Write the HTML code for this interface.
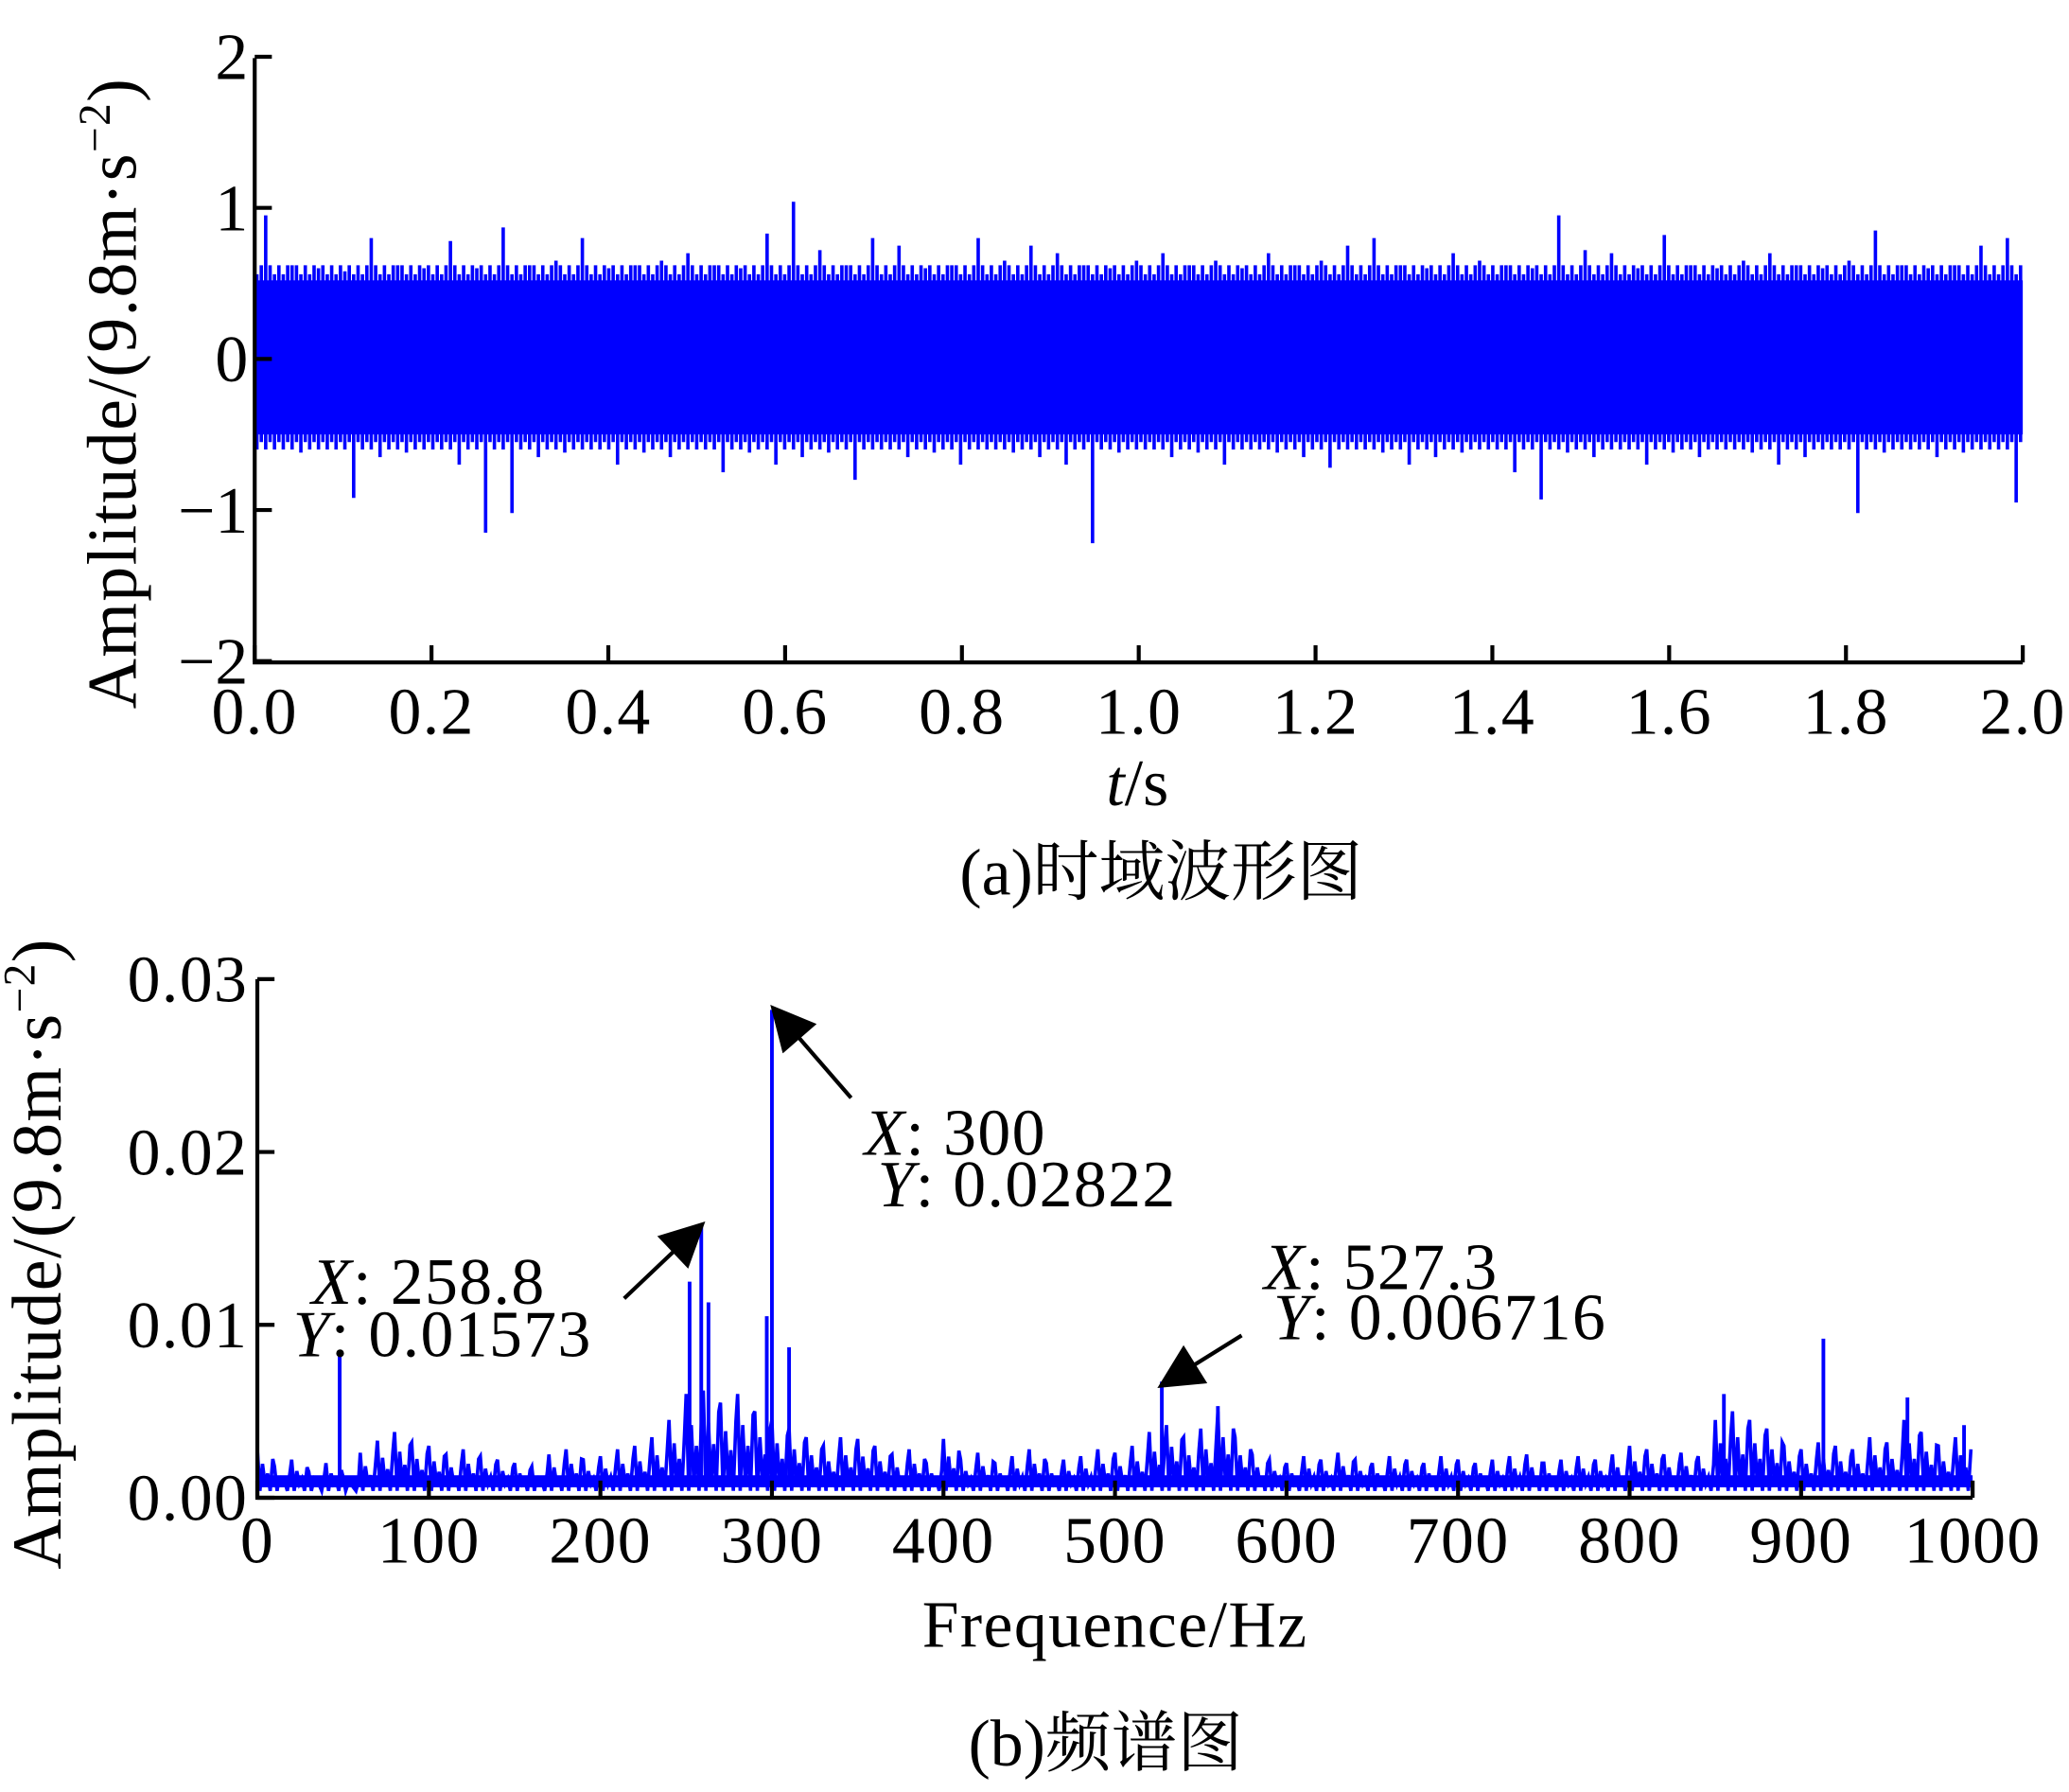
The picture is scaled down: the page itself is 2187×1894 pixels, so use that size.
<!DOCTYPE html>
<html><head><meta charset="utf-8"><style>
html,body{margin:0;padding:0;background:#fff;}
svg{display:block;font-family:"Liberation Serif","Noto Serif CJK SC",serif;}
</style></head><body>
<svg id="chart" width="2187" height="1894" viewBox="0 0 1568 1358" xmlns="http://www.w3.org/2000/svg">
<defs><marker id="ah" viewBox="0 0 10 10" refX="9" refY="5" markerWidth="8" markerHeight="7" markerUnits="userSpaceOnUse" orient="auto"><path d="M0,0 L10,5 L0,10 z" fill="#000"/></marker>
<marker id="ah2" viewBox="0 0 10 10" refX="9" refY="5" markerWidth="40" markerHeight="34" markerUnits="userSpaceOnUse" orient="auto"><path d="M0,0 L10,5 L0,10 z" fill="#000"/></marker></defs>
<g id="top"></g>
<g id="bot"></g>
<text x="103" y="298" font-size="53" letter-spacing="1" text-anchor="middle" transform="rotate(-90 103 298)">Amplitude/(9.8m·s<tspan dy="-20" font-size="34">−2</tspan><tspan dy="20">)</tspan></text>
<text x="46" y="950" font-size="53" letter-spacing="1" text-anchor="middle" transform="rotate(-90 46 950)">Amplitude/(9.8m·s<tspan dy="-20" font-size="34">−2</tspan><tspan dy="20">)</tspan></text>
<text x="862" y="610" font-size="50" text-anchor="middle"><tspan font-style="italic">t</tspan>/s</text>
<text x="880" y="678" font-size="50" text-anchor="middle">(a)时域波形图</text>
<text x="845" y="1248" font-size="50" letter-spacing="1" text-anchor="middle">Frequence/Hz</text>
<text x="838" y="1338" font-size="50" text-anchor="middle">(b)频谱图</text>
<g font-size="50" letter-spacing="1">
<text x="655" y="875"><tspan font-style="italic">X</tspan>: 300</text>
<text x="665" y="914"><tspan font-style="italic">Y</tspan>: 0.02822</text>
<text x="236" y="988"><tspan font-style="italic">X</tspan>: 258.8</text>
<text x="222" y="1028"><tspan font-style="italic">Y</tspan>: 0.01573</text>
<text x="958" y="977"><tspan font-style="italic">X</tspan>: 527.3</text>
<text x="965" y="1015"><tspan font-style="italic">Y</tspan>: 0.006716</text>
<line x1="645" y1="832" x2="586" y2="764" stroke="#000" stroke-width="3" marker-end="url(#ah2)"/>
<line x1="473" y1="984" x2="532" y2="928" stroke="#000" stroke-width="3" marker-end="url(#ah2)"/>
<line x1="941" y1="1012" x2="880" y2="1050" stroke="#000" stroke-width="3" marker-end="url(#ah2)"/>
</g>
</svg>
<script>
const NS="http://www.w3.org/2000/svg";
// time domain envelope per 0.03 s bin
const timeHi=[0.95,0.62,0.6,0.58,0.8,0.62,0.6,0.78,0.6,0.87,0.62,0.65,0.8,0.6,0.62,0.65,0.7,0.62,0.6,0.83,1.04,0.72,0.62,0.8,0.75,0.6,0.62,0.8,0.65,0.75,0.7,0.62,0.6,0.65,0.7,0.62,0.65,0.6,0.7,0.62,0.65,0.75,0.8,0.62,0.6,0.7,0.65,0.62,0.6,0.95,0.72,0.7,0.6,0.82,0.62,0.6,0.65,0.7,0.62,0.6,0.65,0.85,0.62,0.6,0.62,0.75,0.8];
const timeLo=[-0.6,-0.62,-0.6,-0.92,-0.65,-0.62,-0.6,-0.7,-1.15,-1.02,-0.65,-0.62,-0.6,-0.7,-0.62,-0.65,-0.6,-0.75,-0.62,-0.7,-0.65,-0.62,-0.8,-0.6,-0.65,-0.62,-0.7,-0.6,-0.62,-0.65,-0.7,-1.22,-0.62,-0.6,-0.65,-0.62,-0.7,-0.6,-0.62,-0.65,-0.72,-0.6,-0.62,-0.7,-0.65,-0.62,-0.6,-0.75,-0.93,-0.62,-0.65,-0.6,-0.7,-0.62,-0.65,-0.6,-0.62,-0.7,-0.65,-0.6,-1.02,-0.62,-0.6,-0.65,-0.62,-0.6,-0.95];
const timeTicks=["0.0","0.2","0.4","0.6","0.8","1.0","1.2","1.4","1.6","1.8","2.0"];
const ampTicks=["2","1","0","−1","−2"];
// spectrum baseline per 10 Hz bin (max)
const specHi=[0.0028,0.0018,0.0022,0.0015,0.002,0.0012,0.0026,0.0033,0.0038,0.0032,0.003,0.0025,0.0028,0.0024,0.0022,0.002,0.0018,0.0025,0.0028,0.0022,0.0024,0.0028,0.003,0.0035,0.0045,0.006,0.0062,0.0055,0.006,0.005,0.0045,0.004,0.0035,0.003,0.0035,0.0034,0.003,0.0025,0.0028,0.002,0.0034,0.0022,0.0026,0.002,0.0024,0.0028,0.002,0.0022,0.0024,0.0028,0.0026,0.003,0.0038,0.0042,0.0035,0.004,0.005,0.0035,0.0025,0.0022,0.002,0.0024,0.0022,0.0026,0.0022,0.002,0.0024,0.0022,0.002,0.0024,0.0022,0.002,0.0022,0.0024,0.0025,0.002,0.0022,0.0024,0.0022,0.0025,0.003,0.0028,0.0025,0.0026,0.0024,0.0045,0.005,0.0045,0.004,0.003,0.0028,0.0032,0.003,0.0028,0.0035,0.0032,0.0045,0.0038,0.003,0.0035];
const specLo=0.0004;
const peakF=[48,252,258.8,263,297,300,310,527.3,560,855,913,962,995];
const peakA=[0.0082,0.0125,0.01573,0.0113,0.0105,0.02822,0.0087,0.006716,0.0053,0.006,0.0092,0.0058,0.0042];
const freqTicks=[0,100,200,300,400,500,600,700,800,900,1000];
const specTicks=["0.03","0.02","0.01","0.00"];

function mk(p,tag,at,name,txt){const e=document.createElementNS(NS,tag);for(const k in at)e.setAttribute(k,at[k]);


if(txt!==undefined)e.textContent=txt;p.appendChild(e);return e;}

// top chart
const T=document.getElementById('top');
const tx=t=>193+t/2*1340, ty=v=>272-v*114.5;
let d="";
const dt=2/timeHi.length;
timeHi.forEach((h,i)=>{const t0=i*dt;
 const l=timeLo[i];
 for(let k=0;k<6;k++){const t=t0+dt*(k+0.5)/6;d+=`M${tx(t)},${ty(k==2?h:(k%2?0.62:0.56))}V${ty(k==4?l:(k%2?-0.55:-0.6))}`;}
});
mk(T,'rect',{x:tx(0),y:ty(0.52),width:tx(2)-tx(0),height:ty(-0.5)-ty(0.52),fill:'#0000ff'},'signal-band');
mk(T,'path',{d:d,stroke:'#0000ff','stroke-width':2.6,fill:'none'},'time-signal');
mk(T,'path',{d:`M193,44V502H1533`,stroke:'#000','stroke-width':3,fill:'none'},'top-axes');
timeTicks.forEach((s,i)=>{const x=tx(+s);mk(T,'line',{x1:x,x2:x,y1:502,y2:489,stroke:'#000','stroke-width':3},'x-tick');
 mk(T,'text',{x:x,y:556,'font-size':50,'letter-spacing':1,'text-anchor':'middle'},'x-tick-label',s);});
ampTicks.forEach((s,i)=>{const y=ty(2-i);mk(T,'line',{x1:193,x2:206,y1:y,y2:y,stroke:'#000','stroke-width':3},'y-tick');
 mk(T,'text',{x:188,y:y+17,'font-size':50,'text-anchor':'end'},'y-tick-label',s);});

// bottom chart
const B=document.getElementById('bot');
const fx=f=>195+f/1000*1300, fy=a=>1135-a/0.03*393;
mk(B,'rect',{x:fx(0),y:fy(0.0013),width:fx(1000)-fx(0),height:fy(0.0006)-fy(0.0013),fill:'#0000ff'},'spectrum-band');
let pts=[];
specHi.forEach((h,i)=>{const f=i*10;pts.push(`${fx(f)},${fy(h)}`,`${fx(f+1.5)},${fy(specLo)}`,`${fx(f+3)},${fy(h*0.7)}`,`${fx(f+4.5)},${fy(specLo*2)}`,`${fx(f+6)},${fy(h*0.5)}`,`${fx(f+7.5)},${fy(specLo)}`,`${fx(f+9)},${fy(h*0.8)}`);});
mk(B,'polyline',{points:pts.join(' '),stroke:'#0000ff','stroke-width':2.6,fill:'none'},'spectrum-line');
let pd="";peakF.forEach((f,i)=>{pd+=`M${fx(f)},${fy(0.001)}V${fy(peakA[i])}`;});
mk(B,'path',{d:pd,stroke:'#0000ff','stroke-width':2.8,fill:'none'},'spectrum-peaks');
mk(B,'path',{d:`M195,742V1135H1495`,stroke:'#000','stroke-width':3,fill:'none'},'bottom-axes');
freqTicks.forEach(f=>{const x=fx(f);mk(B,'line',{x1:x,x2:x,y1:1135,y2:1122,stroke:'#000','stroke-width':3},'freq-tick');
 mk(B,'text',{x:x,y:1184,'font-size':50,'letter-spacing':1,'text-anchor':'middle'},'freq-tick-label',String(f));});
specTicks.forEach(s=>{const y=fy(+s);mk(B,'line',{x1:195,x2:208,y1:y,y2:y,stroke:'#000','stroke-width':3},'amp-tick');
 mk(B,'text',{x:188,y:y+17,'font-size':50,'letter-spacing':1,'text-anchor':'end'},'amp-tick-label',s);});
</script>
</body></html>
